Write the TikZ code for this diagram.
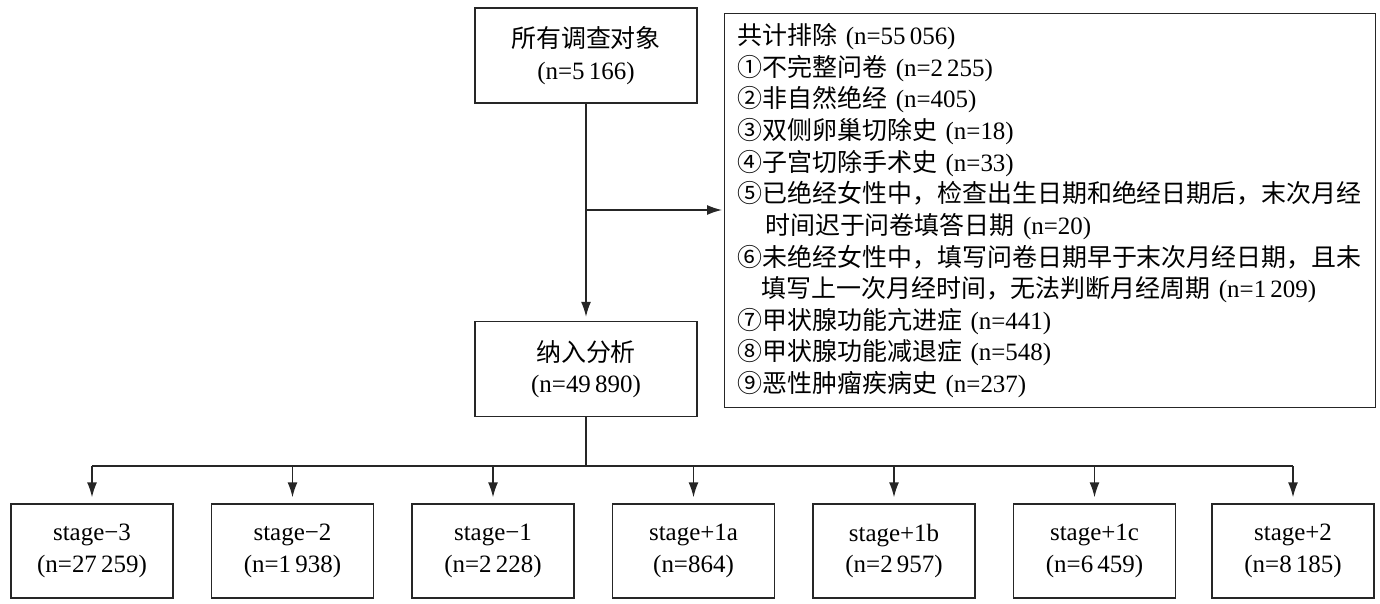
\documentclass[tikz,border=0pt]{standalone}
\usepackage{fontspec}
\setmainfont{Liberation Serif}
\newfontfamily\cjk{Noto Sans CJK SC}
\newcommand{\zh}[1]{{\cjk #1}}
\usetikzlibrary{positioning,arrows.meta}

\begin{document}
\begin{tikzpicture}[
box/.style={draw=black!85,line width=0.8pt,minimum width=4.44cm,minimum height=1.9cm,inner sep=0pt,align=center,font=\fontsize{14.2pt}{18pt}\selectfont},
stagebox/.style={box,minimum width=3.24cm,minimum height=1.88cm},
exclbox/.style={draw=black!85,line width=0.8pt,text width=12.5cm,inner xsep=0.26cm,minimum height=7.88cm,align=left,font=\fontsize{14.2pt}{18pt}\selectfont},
link/.style={draw=black!85,line width=0.8pt},
flow/.style={link,-{Latex[length=3mm,width=2mm]}}
]
\useasboundingbox (0,0) rectangle (27.6,12.06);

\node[box] (all) at (11.72,10.95) {\zh{所有调查对象}\\(n=5\,166)};
\node[box] (incl) at (11.72,4.68) {\zh{纳入分析}\\(n=49\,890)};
\node[exclbox,anchor=north west] (excl) at (14.48,11.8) {%
\zh{共计排除} (n=55\,056)\\
\zh{①不完整问卷} (n=2\,255)\\
\zh{②非自然绝经} (n=405)\\
\zh{③双侧卵巢切除史} (n=18)\\
\zh{④子宫切除手术史} (n=33)\\
\zh{⑤已绝经女性中，检查出生日期和绝经日期后，末次月经}\\
\hspace*{1.1em}\zh{时间迟于问卷填答日期} (n=20)\\
\zh{⑥未绝经女性中，填写问卷日期早于末次月经日期，且未}\\
\hspace*{0.95em}\zh{填写上一次月经时间，无法判断月经周期} (n=1\,209)\\
\zh{⑦甲状腺功能亢进症} (n=441)\\
\zh{⑧甲状腺功能减退症} (n=548)\\
\zh{⑨恶性肿瘤疾病史} (n=237)};

% stages
\node[stagebox] (st1) at (1.84,1.04) {stage−3\\(n=27\,259)};
\node[stagebox] (st2) at (5.85,1.04) {stage−2\\(n=1\,938)};
\node[stagebox] (st3) at (9.86,1.04) {stage−1\\(n=2\,228)};
\node[stagebox] (st4) at (13.87,1.04) {stage+1a\\(n=864)};
\node[stagebox] (st5) at (17.88,1.04) {stage+1b\\(n=2\,957)};
\node[stagebox] (st6) at (21.89,1.04) {stage+1c\\(n=6\,459)};
\node[stagebox] (st7) at (25.86,1.04) {stage+2\\(n=8\,185)};

\coordinate (branch) at (11.72,7.86);
\coordinate (split) at (11.72,2.74);

\draw[flow,shorten >=0.08cm] (all) -- (incl);
\draw[flow,shorten >=0.04cm] (branch) -- (branch -| excl.west);
\draw[link] (incl) -- (split);
\draw[link] (split -| st1) -- (split -| st7);
\foreach \s in {st1,st2,st3,st4,st5,st6,st7}
  \draw[flow,shorten >=0.12cm] (split -| \s) -- (\s);
\end{tikzpicture}
\end{document}
